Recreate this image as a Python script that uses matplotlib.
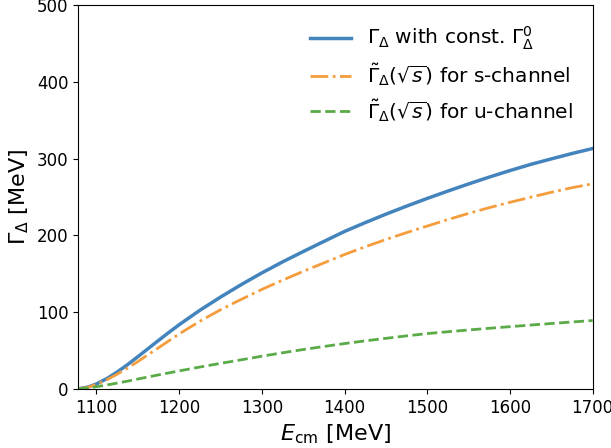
import matplotlib
matplotlib.use("Agg")
from matplotlib import pyplot as plt

# values
e_cm = [1078, 1090, 1100, 1112.5, 1125, 1137.5, 1150, 1162.5, 1175, 1187.5, 1200,
        1225, 1250, 1275, 1300, 1325, 1350, 1375, 1400, 1425, 1450, 1475, 1500,
        1525, 1550, 1575, 1600, 1625, 1650, 1675, 1700]
gamma_const = [0, 2.4, 6.4, 13.3, 21.8, 31.4, 41.8, 52.4, 63, 73.4, 83.5,
               102.3, 119.5, 135.7, 151, 165.3, 178.8, 192, 205, 216.5, 227.5, 238, 248,
               257.6, 266.9, 275.8, 284.3, 292.3, 299.5, 306.5, 313]
gamma_s = [0, 2.2, 5.8, 11.8, 19, 27, 35.5, 44.5, 53.5, 62.5, 71.5,
           88, 103, 116.5, 129.5, 141.5, 153, 164, 175, 185, 194.5, 203.5, 212,
           220.5, 228.5, 236, 243, 249.5, 256, 262, 267]
gamma_u = [0, 1.2, 2.8, 5, 7.5, 10, 12.8, 15.5, 18.2, 20.8, 23.4,
           28.4, 33.2, 37.8, 42.5, 47, 51.2, 55.2, 59, 62.5, 65.8, 69, 72,
           74.4, 76.7, 78.9, 81, 83.1, 85.1, 87.1, 89]

fig = plt.figure(figsize=(6.11, 4.48), dpi=100)
ax = fig.add_axes([0.128, 0.132, 0.842, 0.857])

ax.plot(e_cm, gamma_const, color='#4484bd', lw=2.5,
        label=r'$\Gamma_\Delta$ with const. $\Gamma_\Delta^0$')
ax.plot(e_cm, gamma_s, color='#f59d3d', lw=2, ls='-.',
        label=r'$\tilde{\Gamma}_\Delta(\sqrt{s})$ for s-channel')
ax.plot(e_cm, gamma_u, color='#5aab48', lw=2, ls='--',
        label=r'$\tilde{\Gamma}_\Delta(\sqrt{s})$ for u-channel')

ax.set_xlim(1078, 1700)
ax.set_ylim(0, 500)
ax.set_xticks(range(1100, 1701, 100))
ax.set_yticks(range(0, 501, 100))
ax.tick_params(labelsize=12)
ax.set_xlabel(r'$E_\mathrm{cm}$ [MeV]', fontsize=16)
ax.set_ylabel(r'$\Gamma_\Delta$ [MeV]', fontsize=16)
ax.legend(frameon=False, fontsize=14.5, loc='upper right', labelspacing=0.45,
          borderaxespad=0.6)

fig.savefig('out.png', dpi=100)
